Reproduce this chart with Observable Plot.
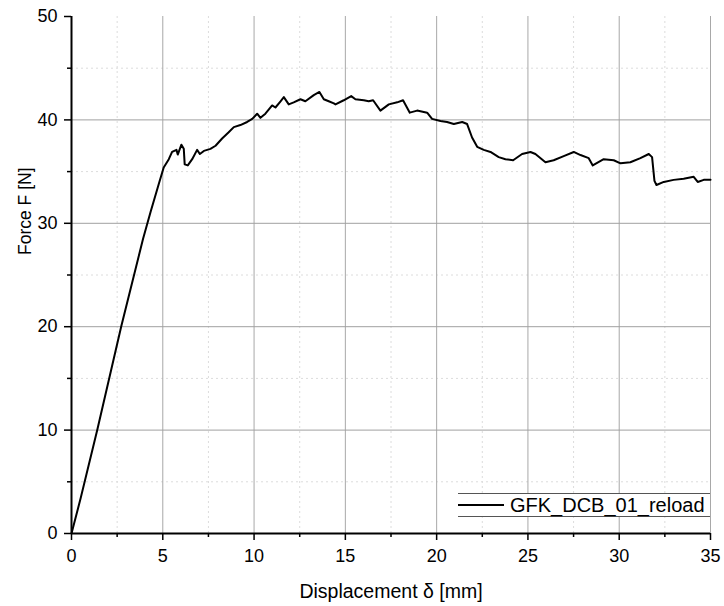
<!DOCTYPE html>
<html>
<head>
<meta charset="utf-8">
<script src="https://cdn.jsdelivr.net/npm/d3@7"></script>
<script src="https://cdn.jsdelivr.net/npm/@observablehq/plot@0.6"></script>
<style>
  html, body { margin: 0; padding: 0; background: #fff; }
  #wrap { position: relative; width: 724px; height: 606px; font-family: "Liberation Sans", Arial, sans-serif; }
  #legend { position: absolute; left: 458px; top: 493px; width: 252px; height: 22px;
            border-top: 1px solid #555; border-bottom: 1px solid #555; background: #fff;
            display: flex; align-items: center; }
  #legend .sample { width: 46px; height: 0; border-top: 2px solid #000; margin-right: 6px; }
  #legend .label { font-size: 20px; color: #000; white-space: nowrap; }
</style>
</head>
<body>
<div id="wrap"></div>
<script>
// Displacement δ [mm]
const displacement = [
  0, 0.5, 1.41, 2.72, 3.92, 4.33, 4.78, 5.05, 5.33, 5.51, 5.75, 5.82, 6.02, 6.15, 6.20, 6.37, 6.61, 6.88, 7.03, 7.25,
  7.61, 7.89, 8.25, 8.61, 8.89, 9.25, 9.62, 9.90, 10.17, 10.35, 10.62, 10.99, 11.17, 11.45, 11.63, 11.90,
  12.17, 12.54, 12.81, 13.27, 13.58, 13.82, 14.09, 14.37, 14.46, 14.91, 15.32, 15.55, 16.01, 16.28, 16.52,
  16.92, 17.38, 17.84, 18.16, 18.53, 18.93, 19.48, 19.75, 20.21, 20.57, 20.94, 21.40, 21.67, 21.94, 22.22,
  22.58, 22.95, 23.40, 23.77, 24.19, 24.68, 25.14, 25.41, 25.96, 26.41, 26.96, 27.51, 27.88, 28.33, 28.55,
  29.15, 29.70, 30.07, 30.61, 31.16, 31.62, 31.80, 31.93, 32.04, 32.44, 32.98, 33.53, 34.08, 34.30, 34.63, 35.0
];
// Force F [N]
const force = [
  0, 3.4, 10, 20, 28.5, 31.1, 33.8, 35.4, 36.2, 36.9, 37.1, 36.65, 37.6, 37.2, 35.7, 35.6, 36.2, 37.1, 36.7, 37.0,
  37.2, 37.5, 38.2, 38.8, 39.3, 39.5, 39.8, 40.1, 40.6, 40.2, 40.6, 41.4, 41.2, 41.8, 42.2, 41.5,
  41.7, 42.0, 41.8, 42.4, 42.7, 42.0, 41.8, 41.6, 41.5, 41.9, 42.3, 42.0, 41.9, 41.8, 41.9,
  40.9, 41.5, 41.7, 41.9, 40.7, 40.9, 40.7, 40.1, 39.9, 39.8, 39.6, 39.8, 39.6, 38.3, 37.4,
  37.1, 36.9, 36.4, 36.2, 36.1, 36.7, 36.9, 36.7, 35.9, 36.1, 36.5, 36.9, 36.6, 36.3, 35.6,
  36.2, 36.1, 35.8, 35.9, 36.3, 36.7, 36.4, 34.1, 33.7, 34.0, 34.2, 34.3, 34.5, 34.0, 34.2, 34.2
];
const seriesName = "GFK_DCB_01_reload";
const xTicks = [0, 5, 10, 15, 20, 25, 30, 35];
const xMinor = [2.5, 7.5, 12.5, 17.5, 22.5, 27.5, 32.5];
const yTicks = [0, 10, 20, 30, 40, 50];
const yMinor = [5, 15, 25, 35, 45];
const xLabel = "Displacement δ [mm]";
const yLabel = "Force F [N]";

const data = displacement.map((d, i) => ({x: d, y: force[i]}));

const chart = Plot.plot({
  width: 724,
  height: 606,
  marginLeft: 71,
  marginRight: 14,
  marginTop: 16,
  marginBottom: 73,
  style: {fontFamily: "'Liberation Sans', Arial, sans-serif", fontSize: "18px", color: "#000", background: "#fff"},
  x: {domain: [0, 35]},
  y: {domain: [0, 50]},
  marks: [
    Plot.ruleX(xMinor, {stroke: "#dcdcdc", strokeDasharray: "2,3", strokeWidth: 1}),
    Plot.ruleY(yMinor, {stroke: "#dcdcdc", strokeDasharray: "2,3", strokeWidth: 1}),
    Plot.ruleX(xTicks.filter(d => d > 0), {stroke: "#a8a8a8", strokeWidth: 1}),
    Plot.ruleY(yTicks.filter(d => d > 0 && d < 50), {stroke: "#a0a0a0", strokeWidth: 1}),
    Plot.line(data, {x: "x", y: "y", stroke: "#000", strokeWidth: 2, strokeLinejoin: "round"}),
    Plot.axisX({ticks: xTicks, tickSize: 7, tickPadding: 9, strokeWidth: 1.5, fontSize: 18, label: null}),
    Plot.axisX({ticks: xMinor, tickSize: 4, strokeWidth: 1.5, text: null, label: null}),
    Plot.axisY({ticks: yTicks, tickSize: 7, tickPadding: 7, strokeWidth: 1.5, fontSize: 18, label: null}),
    Plot.axisY({ticks: yMinor, tickSize: 4, strokeWidth: 1.5, text: null, label: null}),
    Plot.ruleY([0], {stroke: "#000", strokeWidth: 2}),
    Plot.ruleX([0], {stroke: "#000", strokeWidth: 2}),
    Plot.text([xLabel], {frameAnchor: "bottom", dy: 58, fontSize: 19.5, lineAnchor: "middle", fill: "#000"}),
    Plot.text([yLabel], {frameAnchor: "left", rotate: -90, dx: -46, dy: -20, fontSize: 17.5, lineAnchor: "middle", fill: "#000"})
  ]
});

const wrap = document.getElementById("wrap");
wrap.appendChild(chart);
const legend = document.createElement("div");
legend.id = "legend";
legend.innerHTML = '<div class="sample"></div><div class="label"></div>';
legend.querySelector(".label").textContent = seriesName;
wrap.appendChild(legend);
</script>
</body>
</html>
